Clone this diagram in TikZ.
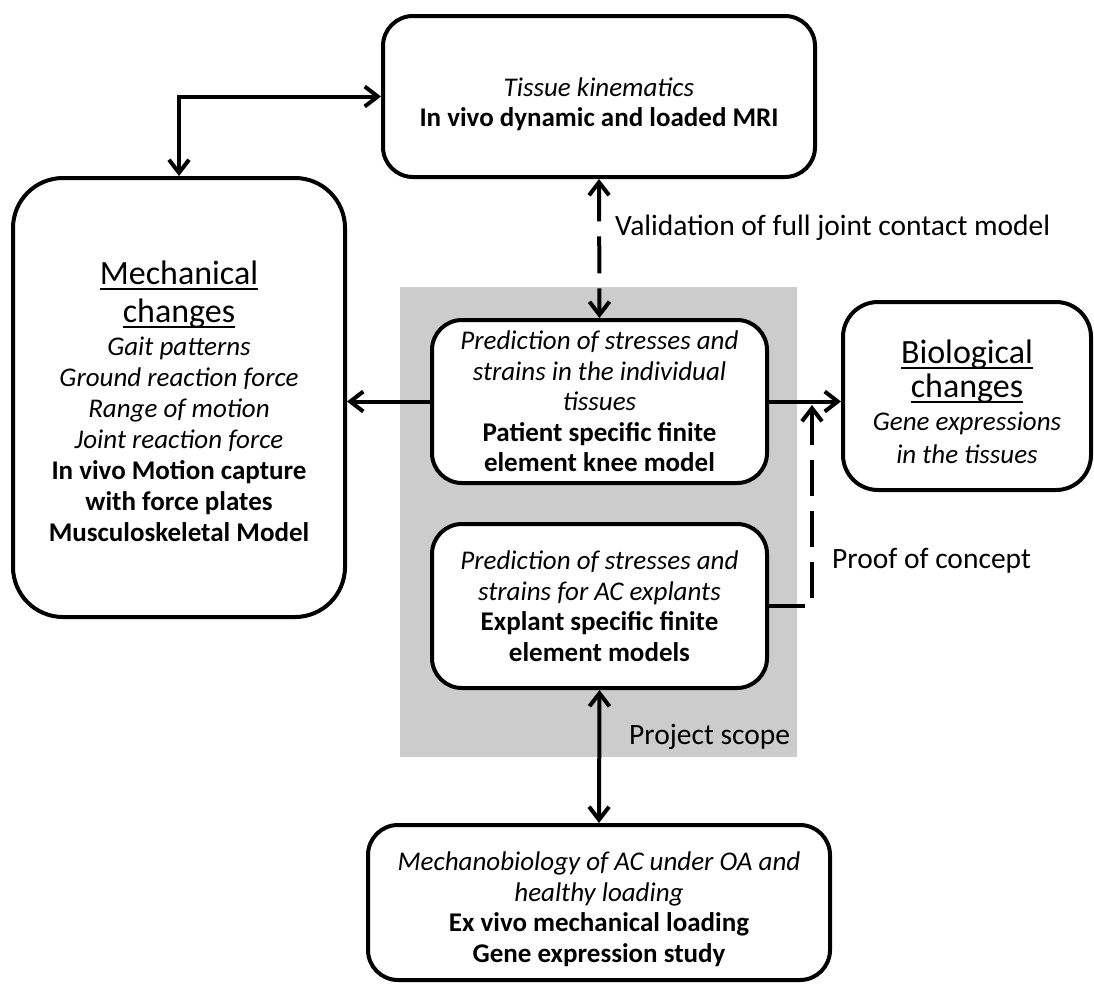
\documentclass[tikz,border=0pt]{standalone}
\usepackage{fontspec}
\setmainfont{Carlito}
\usetikzlibrary{arrows.meta}
\definecolor{scopegray}{RGB}{204,204,204}
\newcommand\ulx[1]{\setbox0\hbox{#1}\rlap{\rule[-5pt]{\wd0}{2pt}}\box0}
\newcommand\ttl{\fontsize{34}{37}\selectfont}
\newcommand\lift[1]{\rule{0pt}{#1}}
\begin{document}
\begin{tikzpicture}[x=1pt,y=-1pt,
  box/.style={draw, line width=4pt, rounded corners=30pt, fill=white, align=center,
    inner sep=0pt, font=\fontsize{27}{30.5}\selectfont},
  lbl/.style={inner sep=0pt, font=\fontsize{29.5}{33}\selectfont},
  conn/.style={line width=4pt, -{Straight Barb[length=13pt,width=20pt]}},
  dconn/.style={line width=4pt, {Straight Barb[length=13pt,width=20pt]}-{Straight Barb[length=13pt,width=20pt]}},
  dash37/.style={dash pattern=on 37pt off 15pt}
]
\useasboundingbox (0,0) rectangle (1094,983);
% project scope area
\fill[scopegray] (400,287) rectangle (797,757);
\node[lbl, anchor=base west] (scope) at (629,744) {Project scope};

% boxes
\node[box, minimum width=432pt, minimum height=161pt] (tbox) at (599,96.5)
  {\lift{34pt}\textit{Tissue kinematics}\\\textbf{In vivo dynamic and loaded MRI}};
\node[box, rounded corners=50pt, minimum width=332pt, minimum height=439pt,
      font=\fontsize{27}{31}\selectfont] (lbox) at (179,397.5)
  {\lift{32pt}{\ttl\ulx{Mechanical}}\\[7pt]{\ttl\ulx{changes}}\\[2pt]
   \textit{Gait patterns}\\\textit{Ground reaction force}\\\textit{Range of motion}\\
   \textit{Joint reaction force}\\\textbf{In vivo Motion capture}\\\textbf{with force plates}\\
   \textbf{Musculoskeletal Model}};
\node[box, minimum width=335pt, minimum height=163pt] (pbox) at (599.5,401.5)
  {\textit{Prediction of stresses and}\\\textit{strains in the individual}\\\textit{tissues}\\
   \textbf{Patient specific finite}\\\textbf{element knee model}};
\node[box, minimum width=335pt, minimum height=164pt] (ebox) at (599.5,606)
  {\textit{Prediction of stresses and}\\\textit{strains for AC explants}\\
   \textbf{Explant specific finite}\\\textbf{element models}};
\node[box, rounded corners=35pt, minimum width=248pt, minimum height=188pt,
      font=\fontsize{27}{33}\selectfont] (bio) at (967,396)
  {\lift{36pt}{\ttl\ulx{Biological}}\\[1pt]{\ttl\ulx{changes}}\\
   \textit{Gene expressions}\\\textit{in the tissues}};
\node[box, minimum width=462pt, minimum height=155pt] (bbox) at (599,902.5)
  {\lift{32pt}\textit{Mechanobiology of AC under OA and}\\\textit{healthy loading}\\
   \textbf{Ex vivo mechanical loading}\\\textbf{Gene expression study}};

% labels
\node[lbl, anchor=base west] (val) at (615,235) {Validation of full joint contact model};
\node[lbl, anchor=base west] (poc) at (832,568) {Proof of concept};

% connectors
\draw[dconn] (lbox.north) |- (tbox.west);
\draw[dconn, dash37] (tbox.south) -- (pbox.north);
\draw[conn] (pbox.west) -- (pbox.west -| lbox.east);
\draw[conn] (pbox.east) -- (pbox.east -| bio.west);
\coordinate (poctip) at (812,405);
\draw[conn, dash pattern=on 36pt off 15pt] (ebox.east) -| (poctip);
\draw[dconn] (ebox.south) -- (bbox.north);
\end{tikzpicture}
\end{document}
